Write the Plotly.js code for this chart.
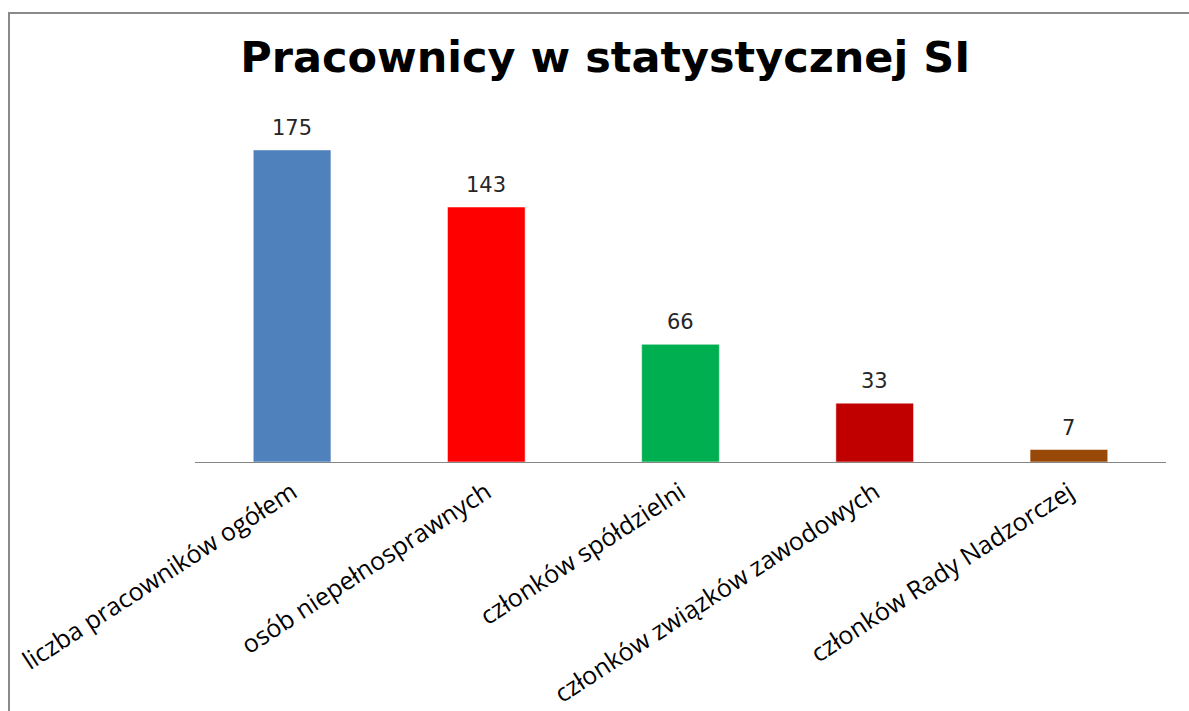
<!DOCTYPE html>
<html>
<head>
<meta charset="utf-8">
<script src="https://cdn.plot.ly/plotly-3.0.1.min.js"></script>
<style>
  body { margin: 0; background: #fff; }
  #chart { width: 1189px; height: 711px; }
  #frame { position: absolute; left: 8px; top: 12px; right: -10px; bottom: -10px;
           border-left: 2px solid #8a8a8a; border-top: 2px solid #8a8a8a; pointer-events: none; }
</style>
</head>
<body>
<div id="chart"></div>
<div id="frame"></div>
<script>
// kategorie i wartości
const categories = [
    'liczba pracowników ogółem',
    'osób niepełnosprawnych',
    'członków spółdzielni',
    'członków związków zawodowych',
    'członków Rady Nadzorczej'
];
const values = [175, 143, 66, 33, 7];
const barColors = ['#4F81BD', '#FF0000', '#00B050', '#C00000', '#984807'];

const trace = {
    type: 'bar',
    x: categories,
    y: values,
    marker: { color: barColors, line: { color: 'rgba(255,255,255,0.5)', width: 1 } },
    hoverinfo: 'x+y'
};

// etykiety wartości nad słupkami
const valueLabels = categories.map((c, i) => ({
    x: c,
    y: values[i],
    text: String(values[i]),
    showarrow: false,
    yanchor: 'bottom',
    yshift: 8,
    font: { family: 'DejaVu Sans', size: 21, color: '#262626' }
}));

const layout = {
    width: 1189,
    height: 711,
    margin: { l: 195, r: 23, t: 100, b: 249 },
    paper_bgcolor: '#fff',
    plot_bgcolor: '#fff',
    showlegend: false,
    bargap: 0.6,
    title: {
        text: '<b>Pracownicy w statystycznej SI</b>',
        font: { family: 'DejaVu Sans', size: 43, color: '#000' },
        x: 0.509, xanchor: 'center',
        y: 0.92, yanchor: 'middle'
    },
    annotations: valueLabels,
    xaxis: {
        showline: true,
        linecolor: '#868686',
        linewidth: 1,
        ticks: '',
        tickangle: -33,
        ticklabelstandoff: 5,
        tickfont: { family: 'Open Sans', size: 25, color: '#000' },
        showgrid: false
    },
    yaxis: {
        range: [0, 203],
        visible: false,
        showgrid: false,
        zeroline: false
    }
};

Plotly.newPlot('chart', [trace], layout, { displayModeBar: false });
</script>
</body>
</html>
